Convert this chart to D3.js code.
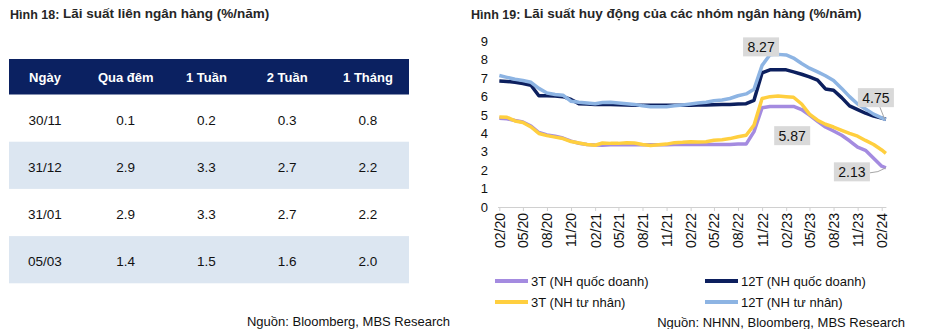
<!DOCTYPE html>
<html>
<head>
<meta charset="utf-8">
<script src="https://cdn.jsdelivr.net/npm/d3@7"></script>
<style>
  body { margin: 0; background: #fff; }
  svg { display: block; font-family: "Liberation Sans", Arial, sans-serif; }
</style>
</head>
<body>
<div class="App"></div>
<script>
// Hình 18 - table
const tableCols = ["Ngày", "Qua đêm", "1 Tuần", "2 Tuần", "1 Tháng"];
const tableDates = ["30/11", "31/12", "31/01", "05/03"];
const overnight = ["0.1", "2.9", "2.9", "1.4"];
const week1 = ["0.2", "3.3", "3.3", "1.5"];
const week2 = ["0.3", "2.7", "2.7", "1.6"];
const month1 = ["0.8", "2.2", "2.2", "2.0"];

// Hình 19 - monthly deposit rates, 02/2020 .. 02/2024 + last obs
const months = d3.timeMonth.range(new Date(2020, 1, 1), new Date(2024, 1, 2))
  .concat([new Date(2024, 1, 17)]);
const qd3 = [4.82, 4.8, 4.7, 4.62, 4.4, 4.05, 3.92, 3.85, 3.75, 3.58, 3.47, 3.4, 3.37, 3.36, 3.38, 3.38, 3.38, 3.38, 3.38, 3.38,
  3.38, 3.38, 3.4, 3.4, 3.4, 3.4, 3.4, 3.4, 3.4, 3.4, 3.42, 3.42, 4.1, 5.4, 5.47, 5.47, 5.47, 5.47, 5.3, 5.0,
  4.66, 4.35, 4.13, 3.9, 3.6, 3.25, 3.08, 2.65, 2.22, 2.13];
const qd12 = [6.85, 6.83, 6.78, 6.72, 6.62, 6.05, 6.05, 6.03, 6.0, 5.85, 5.62, 5.6, 5.58, 5.57, 5.57, 5.56, 5.55, 5.54, 5.54, 5.54,
  5.54, 5.54, 5.54, 5.54, 5.54, 5.55, 5.55, 5.56, 5.57, 5.58, 5.6, 5.62, 5.8, 7.3, 7.46, 7.46, 7.46, 7.35, 7.22, 7.08,
  6.9, 6.42, 6.35, 5.95, 5.5, 5.3, 5.1, 4.95, 4.83, 4.77];
const tn3 = [4.9, 4.88, 4.68, 4.6, 4.35, 4.0, 3.88, 3.8, 3.72, 3.56, 3.48, 3.4, 3.36, 3.48, 3.46, 3.46, 3.5, 3.48, 3.4, 3.34,
  3.38, 3.42, 3.5, 3.52, 3.55, 3.54, 3.55, 3.63, 3.66, 3.72, 3.82, 3.9, 4.45, 5.9, 6.0, 6.03, 6.0, 5.97, 5.6, 5.05,
  4.72, 4.5, 4.35, 4.17, 4.0, 3.85, 3.62, 3.4, 3.1, 2.92];
const tn12 = [7.15, 7.05, 6.95, 6.88, 6.78, 6.45, 6.2, 6.12, 6.08, 5.75, 5.7, 5.66, 5.62, 5.68, 5.7, 5.66, 5.62, 5.58, 5.5, 5.45,
  5.45, 5.45, 5.5, 5.55, 5.6, 5.65, 5.7, 5.78, 5.82, 5.9, 6.05, 6.15, 6.4, 7.7, 8.28, 8.3, 8.27, 8.1, 7.8, 7.55,
  7.35, 7.14, 6.88, 6.45, 6.0, 5.6, 5.33, 5.05, 4.85, 4.75];
const yTicks = [0, 1, 2, 3, 4, 5, 6, 7, 8, 9];
const xTickLabels = ["02/20", "05/20", "08/20", "11/20", "02/21", "05/21", "08/21", "11/21", "02/22",
  "05/22", "08/22", "11/22", "02/23", "05/23", "08/23", "11/23", "02/24"];

const series = [
  { name: "3T (NH quốc doanh)", values: qd3, color: "#a48be0" },
  { name: "12T (NH quốc doanh)", values: qd12, color: "#0c1f5e" },
  { name: "3T (NH tư nhân)", values: tn3, color: "#ffcf3f" },
  { name: "12T (NH tư nhân)", values: tn12, color: "#8db4e3" }
];

const w = 927, h = 329;
const svg = d3.select(".App").append("svg").attr("width", w).attr("height", h);

// titles
function title(x, num, rest) {
  const t = svg.append("text").attr("x", x).attr("y", 19).attr("fill", "#262626").attr("font-weight", "bold");
  t.append("tspan").attr("font-size", 12.5).text(num);
  t.append("tspan").attr("font-size", 13.5).attr("dy", -0.6).text(" " + rest);
}
title(10, "Hình 18:", "Lãi suất liên ngân hàng (%/năm)");
title(471, "Hình 19:", "Lãi suất huy động của các nhóm ngân hàng (%/năm)");

// ---- table ----
const colX = d3.scalePoint().domain(tableCols).range([45, 368]);
const rowY = d3.scaleBand().domain(tableDates).range([94.5, 283.3]);
const tableRows = tableDates.map((d, i) => [d, overnight[i], week1[i], week2[i], month1[i]]);

svg.append("rect").attr("x", 9).attr("y", 59).attr("width", 400).attr("height", 35.5).attr("fill", "#0b2161");
svg.selectAll(".hdr").data(tableCols).enter().append("text")
  .attr("x", d => colX(d)).attr("y", 82).attr("text-anchor", "middle")
  .attr("font-size", 13).attr("font-weight", "bold").attr("fill", "#fff").text(d => d);

svg.selectAll(".band").data(tableDates.filter((d, i) => i % 2 === 1)).enter().append("rect")
  .attr("x", 9).attr("y", d => rowY(d)).attr("width", 400).attr("height", rowY.bandwidth())
  .attr("fill", "#dce6f1");

tableRows.forEach(r => {
  svg.selectAll(null).data(r).enter().append("text")
    .attr("x", (d, j) => colX(tableCols[j]))
    .attr("y", rowY(r[0]) + rowY.bandwidth() / 2 + 6.5)
    .attr("text-anchor", "middle").attr("font-size", 13.5).attr("fill", "#111")
    .text(d => d);
});

svg.append("text").attr("x", 450).attr("y", 326).attr("text-anchor", "end")
  .attr("font-size", 13).attr("fill", "#111").text("Nguồn: Bloomberg, MBS Research");

// ---- line chart ----
const parseTick = d3.timeParse("%m/%y");
const x = d3.scaleTime().domain([new Date(2020, 0, 25), new Date(2024, 1, 17)]).range([497.5, 885.9]);
const y = d3.scaleLinear().domain([0, 9]).range([207, 41.5]);

const xAxis = d3.axisBottom(x)
  .tickValues(xTickLabels.map(parseTick))
  .tickFormat(d3.timeFormat("%m/%y"))
  .tickSize(4).tickSizeOuter(0);
const gx = svg.append("g").attr("transform", `translate(0,${y(0)})`).call(xAxis);
gx.select(".domain").attr("stroke", "#d0d0d0");
gx.selectAll(".tick line").attr("stroke", "#d0d0d0");
gx.selectAll(".tick text")
  .attr("transform", "rotate(-90)").attr("text-anchor", "end")
  .attr("x", -6).attr("y", 0).attr("dy", "0.35em")
  .attr("font-size", 14).attr("font-family", "Liberation Sans, Arial, sans-serif").attr("fill", "#111");

svg.selectAll(".ylab").data(yTicks).enter().append("text")
  .attr("x", 488).attr("y", d => y(d)).attr("dy", "0.35em").attr("text-anchor", "end")
  .attr("font-size", 13).attr("fill", "#111").text(d => d);

const line = d3.line().x((d, i) => x(months[i])).y(d => y(d));
svg.selectAll(".series").data(series).enter().append("path")
  .attr("d", d => line(d.values))
  .attr("fill", "none").attr("stroke", d => d.color)
  .attr("stroke-width", 3.5).attr("stroke-linejoin", "round");

// data labels
const last = months.length - 1;
function label(text, px, py, dx, dy, leader) {
  const cx = px + dx, cy = py + dy;
  if (leader) {
    svg.append("path").attr("d", leader(cx, cy, px, py))
      .attr("fill", "none").attr("stroke", "#a6a6a6").attr("stroke-width", 1);
  }
  svg.append("rect").attr("x", cx - 18).attr("y", cy - 9.5).attr("width", 36).attr("height", 19).attr("fill", "#d9d9d9");
  svg.append("text").attr("x", cx).attr("y", cy).attr("dy", "0.36em").attr("text-anchor", "middle")
    .attr("font-size", 14).attr("fill", "#111").text(text);
}
label("8.27", x(months[35]), y(tn12[35]), -17, -7.5);
label("5.87", x(months[36]), y(tn3[36]), 6, 39);
label("4.75", x(months[last]), y(tn12[last]), -10, -22,
  (cx, cy, px, py) => `M${cx + 4},${cy + 9.5}L${px - 1},${py}`);
label("2.13", x(months[last]), y(qd3[last]), -34, 4,
  (cx, cy, px, py) => `M${cx + 18},${cy + 1}Q${px - 8},${cy + 1} ${px},${py}`);

// legend
const legX = [495, 705];
const legY = [281, 302];
const legendOrder = [0, 1, 2, 3];
legendOrder.forEach((si, k) => {
  const lx = legX[k % 2], ly = legY[Math.floor(k / 2)];
  svg.append("line").attr("x1", lx).attr("x2", lx + 33).attr("y1", ly).attr("y2", ly)
    .attr("stroke", series[si].color).attr("stroke-width", 4);
  svg.append("text").attr("x", lx + 36).attr("y", ly).attr("dy", "0.35em")
    .attr("font-size", 13).attr("fill", "#111").text(series[si].name);
});

svg.append("text").attr("x", 905).attr("y", 327).attr("text-anchor", "end")
  .attr("font-size", 13).attr("fill", "#111").text("Nguồn: NHNN, Bloomberg, MBS Research");
</script>
</body>
</html>
